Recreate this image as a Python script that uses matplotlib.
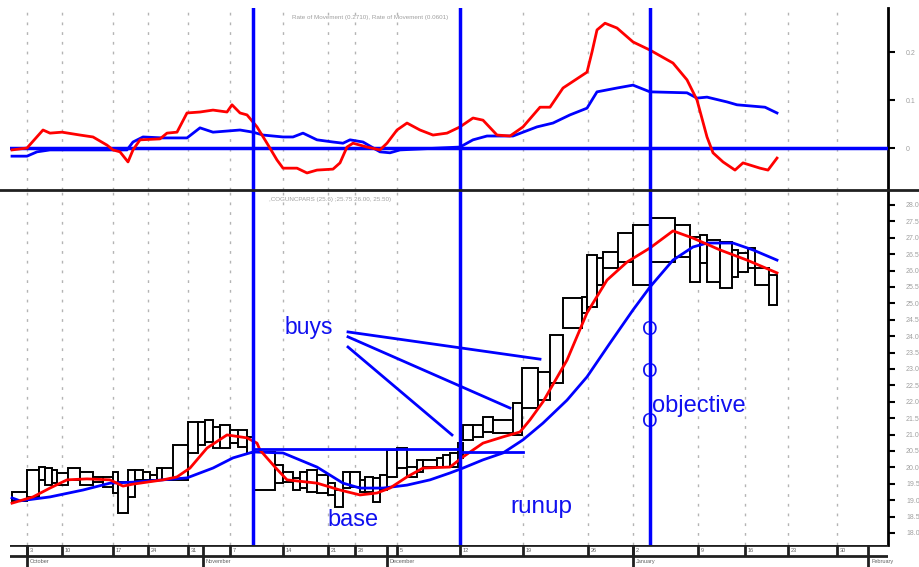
import numpy as np
import matplotlib
matplotlib.use("Agg")
import matplotlib.pyplot as plt
from matplotlib.lines import Line2D

plt.rcParams['font.family'] = ['Liberation Sans', 'DejaVu Sans']

# equivolume boxes: volume (box width), high, low
volume = [15, 12, 6, 7, 5, 11, 12, 13, 10, 10,
          5, 10, 7, 8, 7, 7, 5, 11, 15, 10,
          7, 8, 7, 10, 8, 9, 6, 22, 8, 10,
          7, 7, 10, 11, 7, 8, 7, 10, 5, 8,
          7, 7, 10, 10, 10, 6, 14, 6, 7, 8,
          5, 10, 10, 10, 20, 9, 16, 12, 13, 19,
          5, 10, 6, 15, 15, 17, 25, 15, 10, 7,
          13, 12, 6, 10, 7, 14, 8]
high = [19.25, 19.92, 20.01, 19.98, 19.92, 19.83, 19.98, 19.86, 19.71, 19.71,
        19.86, 19.55, 19.92, 19.92, 19.86, 19.77, 19.98, 19.98, 20.68, 21.38,
        21.38, 21.45, 21.23, 21.29, 21.14, 21.14, 20.93, 20.47, 20.07, 19.86,
        19.68, 19.86, 19.92, 19.77, 19.52, 19.31, 19.86, 19.86, 19.62, 19.71,
        19.68, 19.77, 20.53, 20.59, 20.01, 20.23, 20.23, 20.29, 20.38, 20.44,
        20.74, 21.29, 21.29, 21.54, 21.45, 21.96, 23.03, 22.91, 24.04, 25.16,
        25.20, 26.48, 26.38, 26.57, 27.15, 27.39, 27.60, 27.39, 27.02, 27.09,
        26.93, 26.87, 26.63, 26.54, 26.69, 26.08, 25.87]
low = [18.98, 19.10, 19.62, 19.46, 19.52, 19.46, 19.62, 19.46, 19.55, 19.40,
       19.22, 18.61, 19.10, 19.62, 19.62, 19.62, 19.62, 19.62, 19.62, 20.44,
       20.68, 20.77, 20.59, 20.59, 20.74, 20.62, 20.44, 19.31, 19.52, 19.55,
       19.31, 19.37, 19.25, 19.22, 19.16, 18.79, 19.37, 19.40, 19.25, 19.25,
       18.95, 19.31, 19.71, 19.98, 19.71, 19.86, 20.01, 20.01, 20.01, 20.01,
       20.29, 20.84, 20.93, 21.08, 21.05, 20.99, 21.81, 22.05, 22.57, 24.25,
       24.71, 24.89, 25.56, 26.08, 26.26, 25.56, 26.26, 26.41, 25.65, 26.23,
       25.65, 25.47, 25.80, 25.96, 26.08, 25.56, 24.95]

# moving averages on the price panel (x = cumulative volume)
ma_fast_x = [0, 21, 38, 55, 75, 98, 111, 121, 151, 165, 178, 195, 215, 235, 245, 248,
             263, 275, 305, 328, 348, 365, 378, 395, 411, 438, 451, 471, 491, 508, 518,
             531, 555, 575, 595, 615, 638, 661, 681, 708, 735, 765]
ma_fast = [18.91, 19.10, 19.37, 19.62, 19.65, 19.62, 19.43, 19.49, 19.62, 19.71, 19.98,
           20.59, 20.99, 20.90, 20.74, 20.53, 20.01, 19.62, 19.52, 19.31, 19.16, 19.22,
           19.37, 19.71, 19.98, 20.01, 20.32, 20.74, 20.93, 21.08, 21.45, 22.00, 23.27,
           24.71, 25.71, 26.26, 26.69, 27.21, 26.99, 26.63, 26.32, 25.93]
ma_slow_x = [0, 8, 38, 71, 98, 121, 151, 175, 201, 221, 241, 271, 305, 331, 348, 371,
             395, 418, 438, 451, 471, 491, 511, 531, 555, 575, 598, 621, 638, 661, 681,
             695, 721, 741, 765]
ma_slow = [19.07, 18.98, 19.10, 19.31, 19.52, 19.55, 19.62, 19.68, 19.98, 20.29, 20.47,
           20.44, 20.01, 19.52, 19.37, 19.37, 19.46, 19.62, 19.83, 19.98, 20.23, 20.44,
           20.84, 21.35, 22.05, 22.76, 23.79, 24.80, 25.50, 26.32, 26.72, 26.84, 26.84,
           26.63, 26.32]

# rate of movement panel
roc_a_x = [0, 15, 31, 38, 50, 68, 81, 95, 101, 108, 116, 121, 128, 148, 155, 165, 175,
           188, 201, 215, 220, 228, 235, 245, 255, 265, 271, 285, 295, 305, 321, 328,
           335, 341, 355, 368, 375, 385, 395, 408, 421, 435, 448, 461, 471, 485, 498,
           511, 528, 538, 551, 575, 580, 585, 593, 605, 621, 638, 661, 675, 685, 695,
           701, 711, 723, 731, 748, 756, 765]
roc_a = [-0.004, 0.0, 0.0375, 0.031, 0.033, 0.027, 0.023, 0.006, -0.004, -0.008, -0.029,
         -0.004, 0.017, 0.019, 0.031, 0.033, 0.073, 0.075, 0.079, 0.075, 0.090, 0.073,
         0.069, 0.044, 0.010, -0.025, -0.042, -0.042, -0.052, -0.046, -0.044, -0.031,
         0.002, 0.010, 0.002, -0.004, 0.010, 0.0375, 0.052, 0.0375, 0.027, 0.031, 0.044,
         0.0625, 0.058, 0.027, 0.025, 0.044, 0.085, 0.085, 0.125, 0.158, 0.200, 0.246,
         0.260, 0.250, 0.221, 0.204, 0.177, 0.142, 0.100, 0.023, -0.010, -0.029, -0.046,
         -0.031, -0.042, -0.046, -0.021]
roc_b_x = [0, 15, 25, 38, 101, 115, 121, 131, 151, 175, 188, 201, 228, 241, 251, 271,
           281, 291, 305, 321, 331, 338, 351, 368, 378, 388, 448, 461, 475, 501, 525,
           541, 558, 575, 585, 605, 621, 638, 675, 685, 695, 715, 725, 753, 765]
roc_b = [-0.017, -0.017, -0.008, -0.004, -0.004, -0.004, 0.0125, 0.023, 0.021, 0.021,
         0.042, 0.033, 0.0375, 0.033, 0.027, 0.023, 0.023, 0.031, 0.017, 0.0125, 0.010,
         0.017, 0.0125, -0.008, -0.010, -0.004, 0.002, 0.017, 0.025, 0.025, 0.044,
         0.052, 0.069, 0.083, 0.117, 0.125, 0.131, 0.117, 0.115, 0.104, 0.106, 0.096,
         0.090, 0.085, 0.073]

# calendar (cumulative volume at week / month starts)
week_x = [15, 50, 101, 136, 176, 218, 271, 316, 343, 385, 448, 511, 576, 621, 686, 733, 776, 825]
week_lbl = ['3', '10', '17', '24', '31', '7', '14', '21', '28', '5', '12', '19', '26',
            '2', '9', '16', '23', '30']
month_x = [15, 191, 375, 621, 856]
month_lbl = ['October', 'November', 'December', 'January', 'February']

price_ticks = np.arange(18.0, 28.01, 0.5)
roc_ticks = [0.0, 0.1, 0.2]

# annotations
marker_x = [241, 448, 638]
base_lines = [([241, 446], [20.56, 20.56]), ([451, 511], [20.47, 20.47])]
buy_lines = [([336, 528], [24.13, 23.30]), ([336, 498], [23.98, 21.81]), ([336, 440], [23.67, 20.99])]
target_y = [24.19, 22.91, 21.40]

BLUE = '#0000ff'
RED = '#ff0000'
GRID = '#b4b4b4'
TXT = '#a0a0a0'
NOTE = '#1010f0'

fig = plt.figure(figsize=(9.19, 5.67), dpi=100)
W, H = 919.0, 567.0
left, width = 10 / W, 878 / W
ax1 = fig.add_axes([left, (H - 190) / H, width, 182 / H])
ax2 = fig.add_axes([left, (H - 545) / H, width, 355 / H])
ax3 = fig.add_axes([left, 0, width, 22 / H])

for ax in (ax1, ax2, ax3):
    ax.set_xlim(-2, 876)
    for s in ('top', 'left', 'bottom'):
        ax.spines[s].set_visible(False)
    ax.spines['right'].set_linewidth(2)
    ax.tick_params(axis='x', bottom=False, labelbottom=False)
    ax.tick_params(axis='y', left=False, labelleft=False, right=True, labelright=True,
                   direction='out', length=5, width=1.5, labelsize=5, labelcolor=TXT, pad=8)

# rate of movement
ax1.set_ylim(-0.0875, 0.2917)
ax1.set_yticks(roc_ticks)
ax1.set_yticklabels(['0', '0.1', '0.2'])
for x in week_x:
    ax1.axvline(x, color=GRID, lw=1, dashes=(2, 5), zorder=0)
ax1.axhline(0, color=BLUE, lw=2.5, zorder=3)
ax1.plot(roc_b_x, roc_b, color=BLUE, lw=2, zorder=4)
ax1.plot(roc_a_x, roc_a, color=RED, lw=2, zorder=4)
for x in marker_x:
    ax1.axvline(x, color=BLUE, lw=2.5, zorder=5)
ax1.text(0.41, 0.95, 'Rate of Movement (0.2710), Rate of Movement (0.0601)',
         transform=ax1.transAxes, ha='center', va='center', fontsize=4.5, color=TXT)

# price panel
ax2.set_ylim(17.634, 28.457)
ax2.set_yticks(price_ticks)
ax2.set_yticklabels(['%.1f' % t for t in price_ticks])
for x in week_x:
    ax2.axvline(x, color=GRID, lw=1, dashes=(2, 5), zorder=0)
vol = np.array(volume)
start = np.cumsum(vol) - vol
hi = np.array(high)
lo = np.array(low)
ax2.bar(start, hi - lo, bottom=lo, width=vol, align='edge', facecolor='white',
        edgecolor='black', lw=1.4, zorder=2)
ax2.plot(ma_slow_x, ma_slow, color=BLUE, lw=2, zorder=4)
ax2.plot(ma_fast_x, ma_fast, color=RED, lw=2, zorder=4)
for x in marker_x:
    ax2.axvline(x, color=BLUE, lw=2.5, zorder=5)
for xs, ys in base_lines:
    ax2.plot(xs, ys, color=BLUE, lw=2, zorder=5)
for xs, ys in buy_lines:
    ax2.plot(xs, ys, color=BLUE, lw=2, zorder=5)
ax2.text(273, 24.28, 'buys', color=NOTE, fontsize=16.5, va='center', ha='left')
ax2.text(341, 18.40, 'base', color=NOTE, fontsize=17, va='center', ha='center')
ax2.text(529, 18.79, 'runup', color=NOTE, fontsize=17.5, va='center', ha='center')
ax2.text(640, 21.86, 'objective', color=NOTE, fontsize=17, va='center', ha='left')
for y in target_y:
    ax2.text(marker_x[2], y, 'O', color=NOTE, fontsize=14.5, va='center', ha='center')
ax2.text(0.364, 0.972, ',COGUNCPARS (25.6) ;25.75 26.00, 25.50)', transform=ax2.transAxes,
         ha='center', va='center', fontsize=4.5, color=TXT)

# date scale
ax3.set_ylim(0, 2)
ax3.set_yticks([])
ax3.spines['right'].set_visible(False)
ax3.axhline(2, color='#202020', lw=2)
ax3.axhline(1, color='#202020', lw=2)
ax3.vlines(week_x, 1, 2, color='#202020', lw=2)
ax3.vlines(month_x, 0, 2, color='#202020', lw=2)
for x, s in zip(week_x, week_lbl):
    ax3.text(x + 3, 1.5, s, fontsize=4, color='#606060', va='center', ha='left')
for x, s in zip(month_x, month_lbl):
    ax3.text(x + 3, 0.5, s, fontsize=4, color='#606060', va='center', ha='left')

# panel separator across the whole figure
fig.add_artist(Line2D([0, 1], [(H - 190) / H] * 2, color='#202020', lw=2))

fig.savefig('out.png', dpi=100)
